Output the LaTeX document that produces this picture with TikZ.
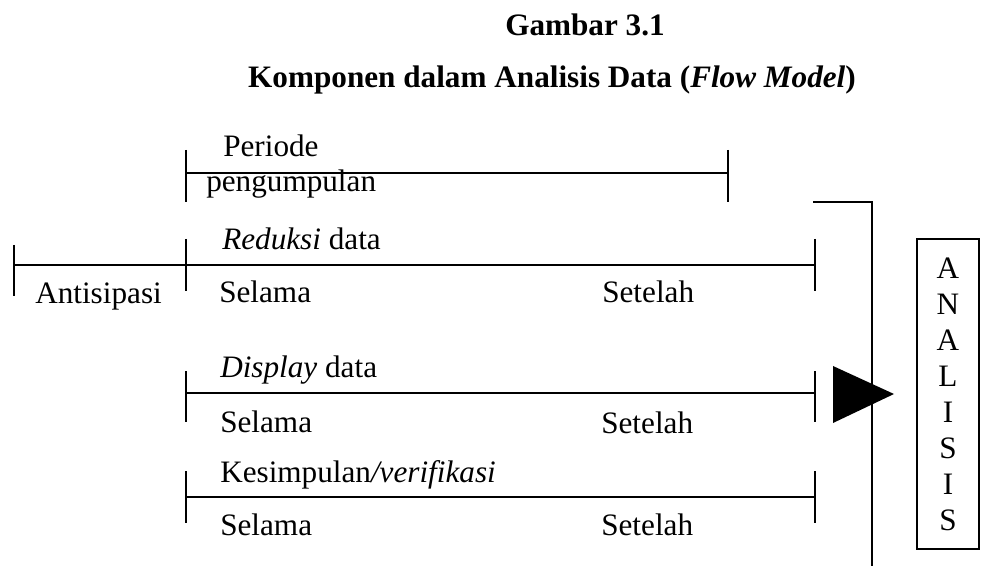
\documentclass[tikz,border=0pt]{standalone}
\usepackage{fontspec}
\setmainfont{Liberation Serif}
\usepackage{tikz}

\tikzset{
  garis/.style={line width=1.5pt},
  teks/.style={anchor=base west,inner sep=0pt,font=\fontsize{23.4}{27}\selectfont},
  judul/.style={anchor=base,inner sep=0pt,font=\fontsize{23.4}{27}\selectfont\bfseries},
}

\begin{document}
\begin{tikzpicture}[x=0.75pt,y=0.75pt,yscale=-1,xscale=1]
\useasboundingbox (0,0) rectangle (981,566);

% Judul
\node [judul] (gambar) at (585,36) {Gambar 3.1};
\node [judul] (komponen) at (552,88) {Komponen dalam Analisis Data (\textit{Flow Model})};

% Periode pengumpulan
\coordinate (per-a) at (186,173);
\coordinate (per-b) at (728,173);
\draw [garis] (per-a) -- (per-b);
\draw [garis] (per-a) ++(0,-23) -- ++(0,52);
\draw [garis] (per-b) ++(0,-23) -- ++(0,52);
\node [teks] (periode) at (223,157) {Periode};
\node [teks] (pengumpulan) at (206,192) {pengumpulan};

% Reduksi data
\coordinate (red-a) at (14,265);
\coordinate (red-m) at (186,265);
\coordinate (red-b) at (815,265);
\draw [garis] (red-a) -- (red-m) -- (red-b);
\draw [garis] (red-a) ++(0,-20) -- ++(0,51);
\draw [garis] (red-m) ++(0,-26) -- ++(0,52);
\draw [garis] (red-b) ++(0,-26) -- ++(0,52);
\node [teks] (reduksi) at (222,250) {\textit{Reduksi} data};
\node [teks] (antisipasi) at (35,304) {Antisipasi};
\node [teks] (red-selama) at (219,303) {Selama};
\node [teks] (red-setelah) at (602,303) {Setelah};

% Display data
\coordinate (dis-a) at (186,393);
\coordinate (dis-b) at (815,393);
\draw [garis] (dis-a) -- (dis-b);
\draw [garis] (dis-a) ++(0,-22) -- ++(0,51);
\draw [garis] (dis-b) ++(0,-22) -- ++(0,51);
\node [teks] (display) at (220,378) {\textit{Display} data};
\node [teks] (dis-selama) at (220,432) {Selama};
\node [teks] (dis-setelah) at (601,433) {Setelah};

% Kesimpulan/verifikasi
\coordinate (kes-a) at (186,497);
\coordinate (kes-b) at (815,497);
\draw [garis] (kes-a) -- (kes-b);
\draw [garis] (kes-a) ++(0,-26) -- ++(0,52);
\draw [garis] (kes-b) ++(0,-26) -- ++(0,52);
\node [teks] (kesimpulan) at (220,482) {Kesimpulan\textit{/verifikasi}};
\node [teks] (kes-selama) at (220,535) {Selama};
\node [teks] (kes-setelah) at (601,535) {Setelah};

% Kurung dan panah
\coordinate (kurung-a) at (813,202);
\coordinate (kurung-b) at (872,202);
\coordinate (kurung-c) at (872,566);
\draw [garis] (kurung-a) -- (kurung-b) -- (kurung-c);
\coordinate (panah) at (894,394);
\fill (833,366) -- (panah) -- (833,423) -- cycle;

% Analisis
\node [draw, line width=1.2pt, minimum width=46.5pt, minimum height=232.5pt,
  align=center, inner sep=0pt, font=\fontsize{23.4}{27}\selectfont]
  (analisis) at (948,394) {A\\N\\A\\L\\I\\S\\I\\S};

\end{tikzpicture}
\end{document}
